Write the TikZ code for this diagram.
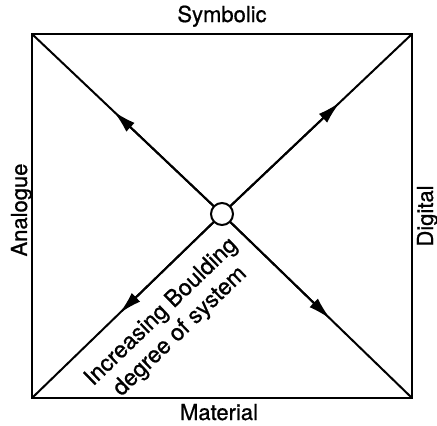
\documentclass[tikz,border=0pt]{standalone}
\usepackage{fontspec}
\setmainfont{TeX Gyre Heros}[FakeBold=0.8]
\usepackage{tikz}
\usetikzlibrary{arrows.meta,calc}

\begin{document}
\begin{tikzpicture}[
            x=1pt, y=-1pt,
            line width=2pt,
            edge/.style={draw, line cap=round},
            arr/.style={-{Latex[length=23pt,width=12pt]}},
            hub/.style={draw, circle, fill=white, minimum size=22pt, inner sep=0pt},
            lbl/.style={font=\fontsize{22}{26}\selectfont, inner sep=0pt}
        ]
            \useasboundingbox (0,0) rectangle (437,426);
            % corners of the square
            \coordinate (tl) at (32,34);
            \coordinate (tr) at (412,34);
            \coordinate (bl) at (32,398);
            \coordinate (br) at (412,398);
            \coordinate (c) at (222,214);
            \draw[edge] (tl) -- (tr) -- (br) -- (bl) -- cycle;
            \draw[edge] (c) -- (tl);
            \draw[edge] (c) -- (tr);
            \draw[edge] (c) -- (bl);
            \draw[edge] (c) -- (br);
            % arrows outwards
            \draw[arr] (c) -- ($(c)!0.57!(tl)$);
            \draw[arr] (c) -- ($(c)!0.62!(tr)$);
            \draw[arr] (c) -- ($(c)!0.54!(bl)$);
            \draw[arr] (c) -- ($(c)!0.57!(br)$);
            \node[hub] (hub) at (c) {};
            % labels
            \node[lbl, anchor=base] (sym) at (222,22) {Symbolic};
            \node[lbl, anchor=base] (mat) at (219,420) {Material};
            \node[lbl, anchor=base, rotate=90] (ana) at (27,210) {Analogue};
            \node[lbl, anchor=base, rotate=90] (dig) at (433,216) {Digital};
            \node[lbl, font=\fontsize{23}{27}\selectfont, align=center, rotate=44] (bould) at (171,322) {Increasing Boulding\\degree of system};
        \end{tikzpicture}
\end{document}
